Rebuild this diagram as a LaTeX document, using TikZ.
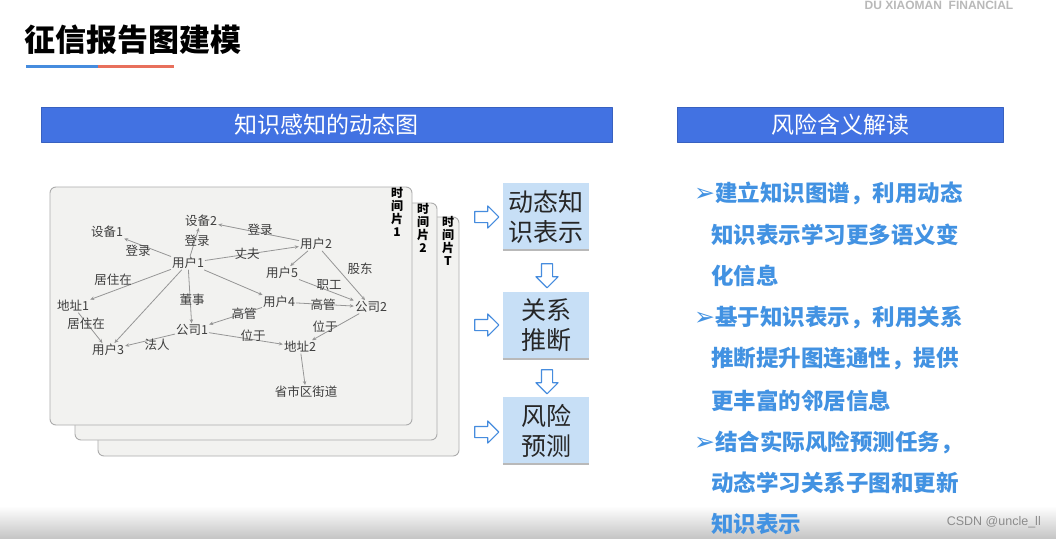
\documentclass[tikz,border=0pt]{standalone}
\usepackage{fontspec}
\setmainfont{Noto Sans CJK SC}
\newfontfamily\latinsans{Liberation Sans}
\newfontfamily\symfont{DejaVu Sans}
\usetikzlibrary{shapes.arrows,arrows.meta}

\definecolor{barblue}{RGB}{66,114,226}
\definecolor{boxblue}{RGB}{199,223,246}
\definecolor{textblue}{RGB}{66,146,226}
\definecolor{cardgray}{RGB}{242,242,240}
\definecolor{edgegray}{RGB}{150,150,150}
\definecolor{labgray}{RGB}{62,62,62}
\definecolor{lineblue}{RGB}{70,140,222}
\definecolor{linered}{RGB}{232,112,92}

\tikzset{
  gnode/.style={font=\fontsize{12.5}{12.5}\selectfont, text=labgray, inner sep=1pt},
  rel/.style={draw=edgegray, line width=0.8pt, -{Stealth[length=4pt,width=3.5pt]}},
  card/.style={draw=gray!65, fill=cardgray, rounded corners=6pt, line width=0.9pt},
  slice/.style={font=\fontsize{12}{13}\selectfont\bfseries, align=center, inner sep=0pt},
  headbar/.style={fill=barblue, draw=barblue!85!black, text=white, minimum height=35pt,
    inner sep=0pt, font=\fontsize{23}{23}\selectfont},
  stepbox/.style={fill=boxblue, minimum width=86pt, minimum height=67pt, align=center,
    inner sep=0pt, text=black!85, font=\fontsize{25}{30}\selectfont},
  hollow/.style={single arrow, draw=lineblue, fill=white, line width=1.1pt, inner sep=5pt,
    minimum height=24pt, single arrow head extend=5.5pt},
  point/.style={anchor=west, inner sep=0pt, text=textblue, font=\fontsize{22.5}{22.5}\selectfont\bfseries}
}
\newcommand{\bul}{{\symfont\fontsize{25}{25}\selectfont ➢}}

\begin{document}
\begin{tikzpicture}[x=1pt, y=-1pt, line cap=round, line join=round]
  \useasboundingbox[fill=white] (0,0) rectangle (1056,538);

  % title and underline
  \node[anchor=west, inner sep=0pt, font=\fontsize{31}{31}\selectfont\bfseries] (title) at (24,40) {征信报告图建模};
  \draw[lineblue, line width=3pt, line cap=butt] (26,66) -- (98,66);
  \draw[linered, line width=3pt, line cap=butt] (98,66) -- (174,66);
  \node[inner sep=0pt, text=gray!55, font=\latinsans\fontsize{12}{12}\selectfont\bfseries] (brand) at (939,5) {DU XIAOMAN\ \ FINANCIAL};

  % section headers
  \node[headbar, minimum width=571pt] (leftbar) at (326.5,124.5) {知识感知的动态图};
  \node[headbar, minimum width=326pt] (rightbar) at (840,124.5) {风险含义解读};

  % stacked time slices
  \draw[card] (98,217) rectangle (459,456);
  \draw[card] (75,203) rectangle (437,440);
  \draw[card] (50,187) rectangle (412,425);
  \node[slice] (t1) at (397,212) {时\\间\\片\\1};
  \node[slice] (t2) at (423,228) {时\\间\\片\\2};
  \node[slice] (tT) at (448,241) {时\\间\\片\\T};

  % graph nodes
  \node[gnode] (d1) at (107,232) {设备1};
  \node[gnode] (d2) at (201,221) {设备2};
  \node[gnode] (u1) at (188,263) {用户1};
  \node[gnode] (u2) at (316,244) {用户2};
  \node[gnode] (u5) at (282,273) {用户5};
  \node[gnode] (u4) at (279,302) {用户4};
  \node[gnode] (u3) at (108,350) {用户3};
  \node[gnode] (a1) at (73,306) {地址1};
  \node[gnode] (a2) at (300,347) {地址2};
  \node[gnode] (c1) at (192,330) {公司1};
  \node[gnode] (c2) at (371,307) {公司2};
  \node[gnode] (st) at (306,392) {省市区街道};

  % graph edges
  \draw[rel] (u1) -- (d1);
  \draw[rel] (u1) -- (d2);
  \draw[rel] (u2) -- (d2);
  \draw[rel] (u1) -- (u2);
  \draw[rel] (u1) -- (a1);
  \draw[rel] (a1) -- (u3);
  \draw[rel] (u1) -- (u3);
  \draw[rel] (u1) -- (c1);
  \draw[rel] (u1) -- (u4);
  \draw[rel] (u2) -- (u5);
  \draw[rel] (u2) -- (c2);
  \draw[rel] (u5) -- (c2);
  \draw[rel] (u4) -- (c2);
  \draw[rel] (u4) -- (c1);
  \draw[rel] (c1) -- (u3);
  \draw[rel] (c1) -- (a2);
  \draw[rel] (c2) -- (a2);
  \draw[rel] (a2) -- (st);

  % edge labels
  \node[gnode] (l1) at (138,251) {登录};
  \node[gnode] (l2) at (197,241) {登录};
  \node[gnode] (l3) at (260,230) {登录};
  \node[gnode] (l4) at (247,254) {丈夫};
  \node[gnode] (l5) at (360,269) {股东};
  \node[gnode] (l6) at (329,285) {职工};
  \node[gnode] (l7) at (113,280) {居住在};
  \node[gnode] (l8) at (86,324) {居住在};
  \node[gnode] (l9) at (192,300) {董事};
  \node[gnode] (l10) at (323,305) {高管};
  \node[gnode] (l11) at (244,314) {高管};
  \node[gnode] (l12) at (157,345) {法人};
  \node[gnode] (l13) at (253,336) {位于};
  \node[gnode] (l14) at (325,327) {位于};

  % pipeline
  \node[stepbox] (s1) at (546,216.5) {动态知\\识表示};
  \node[stepbox] (s2) at (546,325) {关系\\推断};
  \node[stepbox] (s3) at (546,430.5) {风险\\预测};
  \foreach \s in {s1,s2,s3}
    \draw[gray!55, line width=1.6pt, line cap=butt] (\s.south west) -- (\s.south east);
  \node[hollow] (r1) at (484,217) {};
  \node[hollow] (r2) at (484,325) {};
  \node[hollow] (r3) at (484,432) {};
  \node[hollow, shape border rotate=270] (v1) at (547,273) {};
  \node[hollow, shape border rotate=270] (v2) at (547,379) {};

  % bottom bar of the screenshot
  \shade[top color=white, bottom color=gray!45] (0,506) rectangle (1056,538);

  % interpretation
  \node[point] (p1) at (694,193) {\bul 建立知识图谱，利用动态};
  \node[point] (p2) at (711,235) {知识表示学习更多语义变};
  \node[point] (p3) at (711,276) {化信息};
  \node[point] (p4) at (694,318) {\bul 基于知识表示，利用关系};
  \node[point] (p5) at (711,359) {推断提升图连通性，提供};
  \node[point] (p6) at (711,401) {更丰富的邻居信息};
  \node[point] (p7) at (694,442) {\bul 结合实际风险预测任务，};
  \node[point] (p8) at (711,483) {动态学习关系子图和更新};
  \node[point] (p9) at (711,524) {知识表示};

  \node[anchor=east, inner sep=0pt, text=black!45, font=\latinsans\fontsize{12.5}{12.5}\selectfont] (mark) at (1041,522) {CSDN @uncle\_ll};
\end{tikzpicture}
\end{document}
